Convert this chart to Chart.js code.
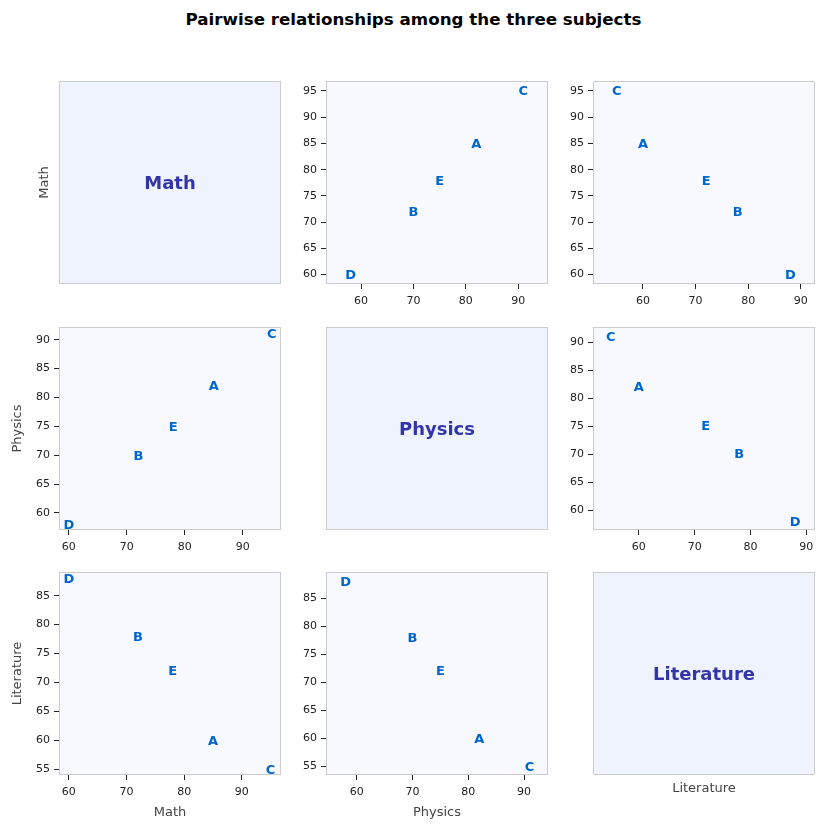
<!DOCTYPE html>
<html>
<head>
<meta charset="utf-8">
<script src="https://cdn.jsdelivr.net/npm/chart.js@4.4.0/dist/chart.umd.min.js"></script>
<style>
body { margin: 0; background: #fff; width: 827px; height: 832px; position: relative; overflow: hidden; font-family: 'DejaVu Sans', sans-serif; }
#title { position: absolute; top: 9px; left: 0; width: 827px; text-align: center; font-weight: bold; font-size: 16.7px; color: #000; }
canvas { position: absolute; }
</style>
</head>
<body>
<div id="title">Pairwise relationships among the three subjects</div>
<script>
var students = ['A', 'B', 'C', 'D', 'E'];
var subjects = ['Math', 'Physics', 'Literature'];
var mathScores = [85, 72, 95, 60, 78];
var physicsScores = [82, 70, 91, 58, 75];
var literatureScores = [60, 78, 55, 88, 72];
var xTicks = [60, 70, 80, 90];
var mathTicks = [60, 65, 70, 75, 80, 85, 90, 95];
var physicsTicks = [60, 65, 70, 75, 80, 85, 90];
var literatureTicks = [55, 60, 65, 70, 75, 80, 85];

var scores = [mathScores, physicsScores, literatureScores];
var yTickSets = [mathTicks, physicsTicks, literatureTicks];

// axis limits, [row][col] -> [xmin, xmax, ymin, ymax]
var limits = [
    [null, [53.3, 95.7, 58.2, 96.9], [50.5, 92.7, 58.2, 96.9]],
    [[58.3, 96.6, 57.05, 92.2], null, [51.8, 91.55, 56.45, 92.7]],
    [[58.3, 96.8, 54.0, 89.1], [54.5, 94.3, 53.45, 89.65], null]
];

var colLeft = [59, 326, 593];
var rowTop = [81, 327, 572];
var PW = 222, PH = 203;
var FONT = "'DejaVu Sans', sans-serif";

var boxPlugin = {
    id: 'panelBox',
    beforeDraw: function(chart) {
        var a = chart.chartArea, ctx = chart.ctx;
        ctx.save();
        ctx.fillStyle = chart.options.plugins.panelBox.diag ? '#eef3fe' : '#f8f9fe';
        ctx.fillRect(a.left, a.top, a.right - a.left, a.bottom - a.top);
        ctx.restore();
    },
    afterDraw: function(chart) {
        var a = chart.chartArea, ctx = chart.ctx, o = chart.options.plugins.panelBox;
        ctx.save();
        ctx.strokeStyle = '#cccccc';
        ctx.lineWidth = 1;
        ctx.strokeRect(a.left + 0.5, a.top + 0.5, a.right - a.left - 1, a.bottom - a.top - 1);
        if (o.diag) {
            ctx.font = 'bold 18px ' + FONT;
            ctx.fillStyle = '#3333aa';
            ctx.textAlign = 'center';
            ctx.textBaseline = 'middle';
            ctx.fillText(o.text, (a.left + a.right) / 2, (a.top + a.bottom) / 2 + 2);
        }
        ctx.restore();
    }
};

var namePlugin = {
    id: 'names',
    afterDatasetsDraw: function(chart) {
        var ds = chart.data.datasets[0];
        if (!ds) return;
        var ctx = chart.ctx, xs = chart.scales.x, ys = chart.scales.y;
        ctx.save();
        ctx.font = 'bold 13px ' + FONT;
        ctx.fillStyle = '#0066cc';
        ctx.textAlign = 'center';
        ctx.textBaseline = 'middle';
        ds.data.forEach(function(p) {
            ctx.fillText(p.name, xs.getPixelForValue(p.x), ys.getPixelForValue(p.y) + 1);
        });
        ctx.restore();
    }
};

function makePanel(r, c) {
    var diag = r === c;
    var Wy = c === 0 ? (r === 0 ? 22 : 49) : 40;
    var Hx = r === 2 ? (c === 2 ? 21 : 45) : 30;
    var padT = 12, padR = 12;
    var canvas = document.createElement('canvas');
    canvas.width = Wy + PW + padR;
    canvas.height = padT + PH + Hx;
    canvas.style.left = (colLeft[c] - Wy) + 'px';
    canvas.style.top = (rowTop[r] - padT) + 'px';
    document.body.appendChild(canvas);

    var lim = diag ? [0, 1, 0, 1] : limits[r][c];
    var points = [];
    if (!diag) {
        for (var i = 0; i < students.length; i++) {
            points.push({ x: scores[c][i], y: scores[r][i], name: students[i] });
        }
    }

    var tickFont = { family: FONT, size: 11 };
    var titleFont = { family: FONT, size: 13 };

    new Chart(canvas, {
        type: 'scatter',
        data: { datasets: diag ? [] : [{ data: points, pointRadius: 0, pointHoverRadius: 0 }] },
        plugins: [boxPlugin, namePlugin],
        options: {
            responsive: false,
            animation: false,
            events: [],
            layout: { padding: { top: padT, right: padR, left: 0, bottom: 0 } },
            plugins: {
                legend: { display: false },
                tooltip: { enabled: false },
                panelBox: { diag: diag, text: subjects[r] }
            },
            scales: {
                x: {
                    type: 'linear', min: lim[0], max: lim[1],
                    afterFit: function(s) { s.height = Hx; },
                    afterBuildTicks: function(s) { s.ticks = diag ? [] : xTicks.map(function(v) { return { value: v }; }); },
                    ticks: { display: !diag, font: tickFont, color: '#222', padding: 6, maxRotation: 0, autoSkip: false },
                    grid: { display: !diag, drawOnChartArea: false, tickLength: 5, color: '#222', tickWidth: 1 },
                    border: { display: false },
                    title: { display: r === 2, text: subjects[c], font: titleFont, color: '#444', padding: 0 }
                },
                y: {
                    type: 'linear', min: lim[2], max: lim[3],
                    afterFit: function(s) { s.width = Wy; },
                    afterBuildTicks: function(s) { s.ticks = diag ? [] : yTickSets[r].map(function(v) { return { value: v }; }); },
                    ticks: { display: !diag, font: tickFont, color: '#222', padding: 4, autoSkip: false },
                    grid: { display: !diag, drawOnChartArea: false, tickLength: 5, color: '#222', tickWidth: 1 },
                    border: { display: false },
                    title: { display: c === 0, text: subjects[r], font: titleFont, color: '#444', padding: 0 }
                }
            }
        }
    });
}

for (var r = 0; r < 3; r++) {
    for (var c = 0; c < 3; c++) {
        makePanel(r, c);
    }
}
</script>
</body>
</html>
